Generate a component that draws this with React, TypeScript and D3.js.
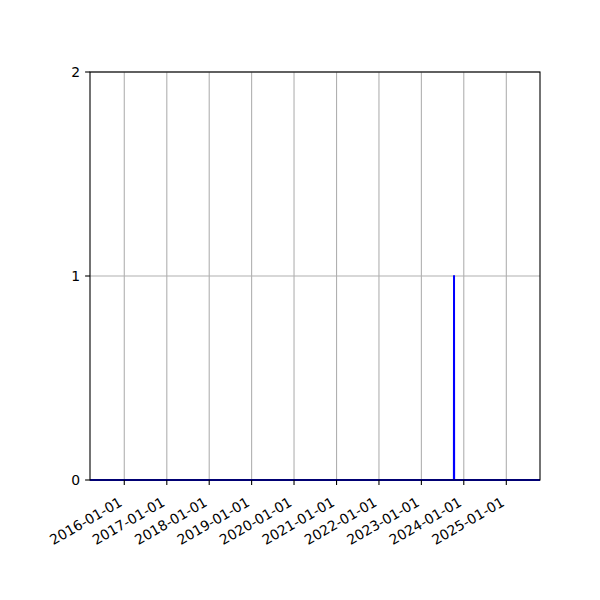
import { useEffect, useRef } from 'react'
import * as d3 from 'd3'

// series: zero everywhere except a single event
const dates = ['2015-03-12', '2023-10-08', '2023-10-09', '2023-10-10', '2025-10-18']
const values = [0, 0, 1, 0, 0]

const xTickLabels = [
  '2016-01-01', '2017-01-01', '2018-01-01', '2019-01-01', '2020-01-01',
  '2021-01-01', '2022-01-01', '2023-01-01', '2024-01-01', '2025-01-01',
]
const yTicks = [0, 1, 2]
const xDomain = ['2015-03-12', '2025-10-18']

const parse = d3.utcParse('%Y-%m-%d')

export default function App() {
  const svgRef = useRef<SVGSVGElement>(null)
  const width = 600
  const height = 600

  useEffect(() => {
    if (!svgRef.current) return
    const svg = d3.select(svgRef.current)
    svg.selectAll('*').remove()

    const margin = { top: 72, right: 60, bottom: 120, left: 90 }
    const font = 'DejaVu Sans, sans-serif'

    const x = d3.scaleUtc()
      .domain(xDomain.map(d => parse(d)!) as [Date, Date])
      .range([margin.left, width - margin.right])

    const y = d3.scaleLinear()
      .domain([0, 2])
      .range([height - margin.bottom, margin.top])

    const x0 = margin.left
    const x1 = width - margin.right
    const y0 = height - margin.bottom
    const y1 = margin.top

    svg.append('rect')
      .attr('width', width)
      .attr('height', height)
      .style('fill', '#ffffff')

    // Grid
    xTickLabels.forEach(t => {
      const px = x(parse(t)!)
      svg.append('line')
        .attr('x1', px).attr('x2', px)
        .attr('y1', y1).attr('y2', y0)
        .style('stroke', '#b0b0b0')
        .style('stroke-width', '1.1px')
    })
    yTicks.forEach(t => {
      svg.append('line')
        .attr('x1', x0).attr('x2', x1)
        .attr('y1', y(t)).attr('y2', y(t))
        .style('stroke', '#b0b0b0')
        .style('stroke-width', '1.1px')
    })

    // Series
    const pts = dates.map((d, i) => [parse(d)!, values[i]] as [Date, number])
    const line = d3.line<[Date, number]>()
      .x(d => x(d[0]))
      .y(d => y(d[1]))

    svg.append('path')
      .datum(pts)
      .attr('d', line)
      .style('fill', 'none')
      .style('stroke', '#0000ff')
      .style('stroke-width', '2px')
      .style('stroke-linejoin', 'round')

    // Spines
    svg.append('rect')
      .attr('x', x0).attr('y', y1)
      .attr('width', x1 - x0).attr('height', y0 - y1)
      .style('fill', 'none')
      .style('stroke', '#000000')
      .style('stroke-width', '1.1px')

    // X ticks + rotated labels
    xTickLabels.forEach(t => {
      const px = x(parse(t)!)
      svg.append('line')
        .attr('x1', px).attr('x2', px)
        .attr('y1', y0).attr('y2', y0 + 4.9)
        .style('stroke', '#000000')
        .style('stroke-width', '1.1px')
      svg.append('text')
        .attr('transform', `translate(${px - 1},${y0 + 25}) rotate(-30)`)
        .attr('text-anchor', 'end')
        .style('font-family', font)
        .style('font-size', '13.9px')
        .style('fill', '#000000')
        .text(t)
    })

    // Y ticks
    yTicks.forEach(t => {
      svg.append('line')
        .attr('x1', x0 - 4.9).attr('x2', x0)
        .attr('y1', y(t)).attr('y2', y(t))
        .style('stroke', '#000000')
        .style('stroke-width', '1.1px')
      svg.append('text')
        .attr('x', x0 - 9.8)
        .attr('y', y(t))
        .attr('dy', '0.36em')
        .attr('text-anchor', 'end')
        .style('font-family', font)
        .style('font-size', '13.9px')
        .style('fill', '#000000')
        .text(t)
    })
  }, [])

  return (
    <svg
      ref={svgRef}
      width={width}
      height={height}
      style={{ position: 'absolute', left: 0, top: 0 }}
    />
  )
}
